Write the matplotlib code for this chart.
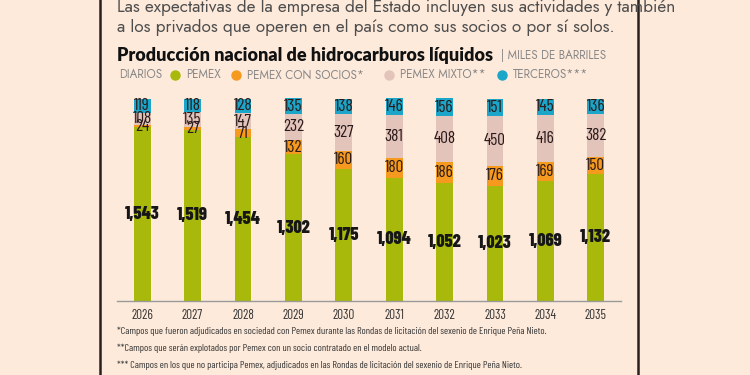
import matplotlib.pyplot as plt
from matplotlib.lines import Line2D
import numpy as np

# data (miles de barriles diarios)
years = ['2026', '2027', '2028', '2029', '2030', '2031', '2032', '2033', '2034', '2035']
pemex = [1543, 1519, 1454, 1302, 1175, 1094, 1052, 1023, 1069, 1132]
con_socios = [24, 27, 71, 132, 160, 180, 186, 176, 169, 150]
mixto = [108, 135, 147, 232, 327, 381, 408, 450, 416, 382]
terceros = [119, 118, 128, 135, 138, 146, 156, 151, 145, 136]

bg = '#fdeadb'
c_green = '#a8b90c'
c_orange = '#f59a1e'
c_pink = '#e2c4bb'
c_cyan = '#1ba5c8'
narrow = ['Barlow Condensed', 'Roboto Condensed', 'Asap Condensed', 'DejaVu Sans']
futura = ['Jost', 'Lato', 'DejaVu Sans']

W, H = 750, 375
fig = plt.figure(figsize=(7.5, 3.75), dpi=100, facecolor=bg)


def fx(px):
    return px / W


def fy(py):
    return 1 - py / H


# axes placed in pixel coords: x 117..621, baseline 300.7, top 90
ax = fig.add_axes([fx(117), fy(300.7), fx(621 - 117), (300.7 - 90) / H])
ax.set_facecolor(bg)
x = np.arange(len(years))
w = 0.33
series = [(pemex, c_green), (con_socios, c_orange), (mixto, c_pink), (terceros, c_cyan)]
bottom = np.zeros(len(years))
for vals, col in series:
    ax.bar(x, vals, w, bottom=bottom, color=col, edgecolor='none', zorder=2)
    for i, v in enumerate(vals):
        yc = bottom[i] + v / 2
        if col == c_green:
            ax.text(x[i], yc, f'{v:,}', ha='center', va='center', fontsize=13,
                    fontweight=800, family=narrow, color='#161616', zorder=3)
        else:
            ax.text(x[i], yc, str(v), ha='center', va='center', fontsize=12.5,
                    family=narrow, color='#2a1a1a', zorder=3)
    bottom += np.array(vals)

ax.set_xlim(-0.5, 9.5)
ax.set_ylim(0, (300.7 - 90) / 0.1123)
for s in ['top', 'right', 'left']:
    ax.spines[s].set_visible(False)
ax.spines['bottom'].set_color('#9a9a9a')
ax.spines['bottom'].set_linewidth(1)
ax.set_yticks([])
ax.set_xticks(x)
ax.set_xticklabels(years, family=narrow, fontsize=9.5, color='#333333')
ax.tick_params(axis='x', length=0, pad=6)

# box border lines
fig.add_artist(Line2D([fx(100), fx(100)], [0, 1], color='#2a2020', lw=1.8))
fig.add_artist(Line2D([fx(638), fx(638)], [0, 1], color='#2a2020', lw=1.8))

# intro text
intro_kw = dict(family=futura, fontsize=12.4, color='#4e4e4e', va='center', ha='left')
fig.text(fx(117), fy(8), 'Las expectativas de la empresa del Estado incluyen sus actividades y también', **intro_kw)
fig.text(fx(117), fy(28), 'a los privados que operen en el país como sus socios o por sí solos.', **intro_kw)

# title
fig.text(fx(117), fy(55), 'Producción nacional de hidrocarburos líquidos', family='Lato',
         fontweight='heavy', fontsize=13, color='#111111', va='center', ha='left')
fig.text(fx(501), fy(55), '| MILES DE BARRILES', family=futura, fontsize=8.4,
         color='#888888', va='center', ha='left')

# legend row
leg_kw = dict(family=futura, fontsize=8.4, color='#888888', va='center', ha='left')
fig.text(fx(119), fy(75), 'DIARIOS', **leg_kw)
legend_items = [(175, c_green, 'PEMEX'), (236, c_orange, 'PEMEX CON SOCIOS*'),
                (389, c_pink, 'PEMEX MIXTO**'), (502, c_cyan, 'TERCEROS***')]
for px, col, lab in legend_items:
    fig.add_artist(Line2D([fx(px)], [fy(75)], marker='o', markersize=6.5, color=col, lw=0))
    fig.text(fx(px + 11), fy(75), lab, **leg_kw)

# footnotes
foot_kw = dict(family=narrow, fontsize=7.3, color='#333333', va='center', ha='left')
fig.text(fx(117), fy(331), '*Campos que fueron adjudicados en sociedad con Pemex durante las Rondas de licitación del sexenio de Enrique Peña Nieto.', **foot_kw)
fig.text(fx(117), fy(348), '**Campos que serán explotados por Pemex con un socio contratado en el modelo actual.', **foot_kw)
fig.text(fx(117), fy(365), '*** Campos en los que no participa Pemex, adjudicados en las Rondas de licitación del sexenio de Enrique Peña Nieto.', **foot_kw)

fig.savefig('out.png', dpi=100, facecolor=bg)
